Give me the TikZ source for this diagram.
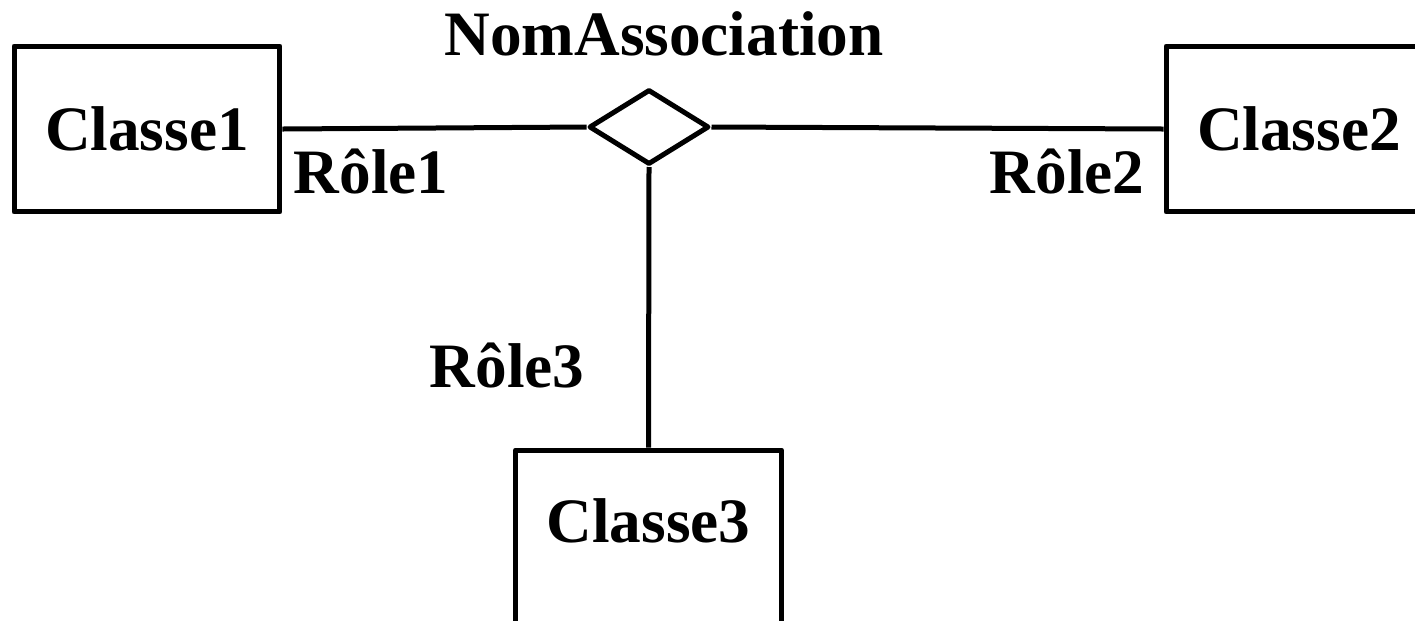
\documentclass[tikz,border=0pt]{standalone}
\usepackage{fontspec}
\setmainfont{Liberation Serif}
\usetikzlibrary{shapes.geometric}
\tikzset{
  classbox/.style={draw, line width=0.1cm, line join=round, minimum width=5.32cm, minimum height=3.32cm, inner sep=0pt},
  assocdiamond/.style={draw, diamond, line width=0.1cm, line join=round, minimum width=2.4cm, minimum height=1.5cm, inner sep=0pt},
  rolelabel/.style={anchor=base, inner sep=0pt},
  link/.style={line width=0.1cm}
}
\begin{document}
\begin{tikzpicture}[x=0.02cm, y=-0.02cm, font=\fontsize{36}{43}\selectfont\bfseries]
    \useasboundingbox (0,0) rectangle (1415,620);
    \clip (0,0) rectangle (1415,620);
    \node[classbox] (c1) at (147,129) {Classe1};
    \node[classbox] (c2) at (1299,129) {Classe2};
    \node[classbox, minimum height=3.5cm, text depth=0.68cm] (c3) at (648.5,537.5) {Classe3};
    \node[assocdiamond] (assoc) at (649,127) {};
    \draw[link] (c1.east) -- (assoc.west);
    \draw[link] (assoc.east) -- (c2.west);
    \draw[link] (assoc.south) -- (c3.north);
    \node[rolelabel] (nom) at (664,55) {NomAssociation};
    \node[rolelabel] (r1) at (371,193) {Rôle1};
    \node[rolelabel] (r2) at (1067,193) {Rôle2};
    \node[rolelabel] (r3) at (507,387) {Rôle3};
  \end{tikzpicture}
\end{document}
